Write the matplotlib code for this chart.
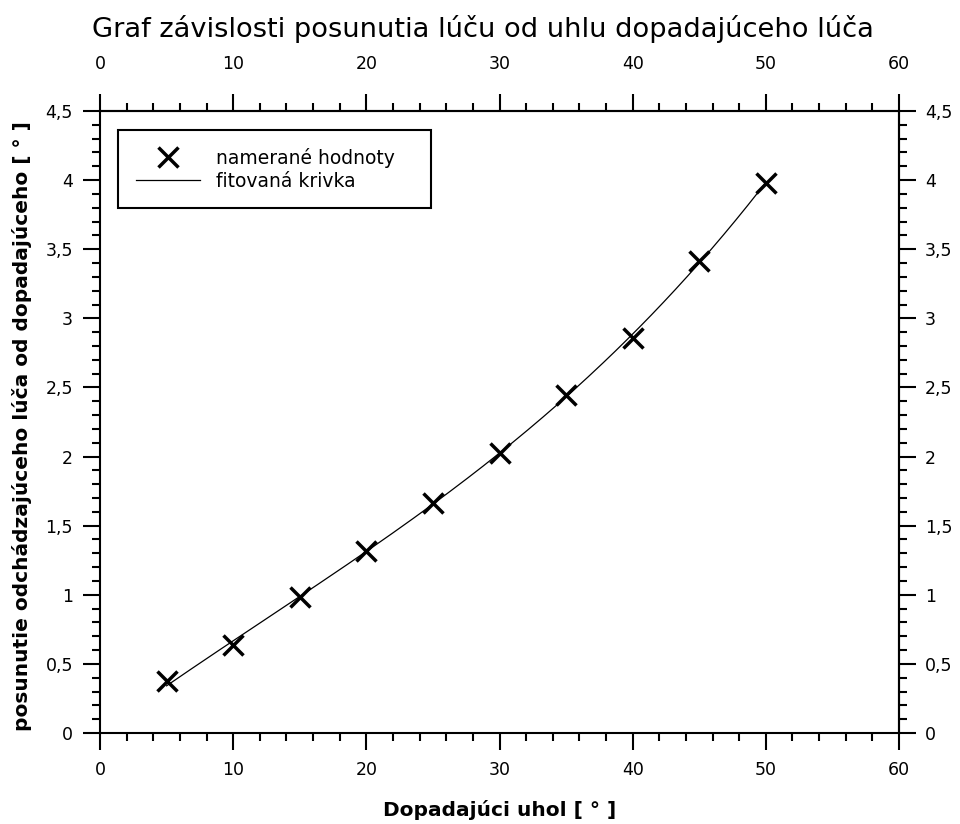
import numpy as np
import matplotlib
matplotlib.use("Agg")
import matplotlib.pyplot as plt
from matplotlib.ticker import MultipleLocator, FixedLocator, FuncFormatter

# Data
uhol = [5, 10, 15, 20, 25, 30, 35, 40, 45, 50]
posunutie = [0.376, 0.637, 0.984, 1.317, 1.662, 2.028, 2.446, 2.856, 3.415, 3.982]

x_ticks = [0, 10, 20, 30, 40, 50, 60]
y_ticks = [0, 0.5, 1, 1.5, 2, 2.5, 3, 3.5, 4, 4.5]

title = "Graf závislosti posunutia lúču od uhlu dopadajúceho lúča"
xlabel = "Dopadajúci uhol [ ° ]"
ylabel = "posunutie odchádzajúceho lúča od dopadajúceho [ ° ]"
legend_labels = ["namerané hodnoty", "fitovaná krivka"]

plt.rcParams['font.family'] = ['DejaVu Sans']

W, H = 960, 824
fig = plt.figure(figsize=(W / 100, H / 100), dpi=100)
ax = fig.add_axes([100 / W, (H - 733) / H, 799 / W, 622 / H])

# fitted curve: least squares y = a*x + b*x^2 + c*x^3 (through origin) on measured data
xa = np.asarray(uhol, dtype=float)
ya = np.asarray(posunutie, dtype=float)
A = np.column_stack([xa, xa ** 2, xa ** 3])
(a, b, c), *_ = np.linalg.lstsq(A, ya, rcond=None)
xf = np.linspace(xa.min(), xa.max(), 200)
yf = a * xf + b * xf ** 2 + c * xf ** 3

ax.plot(uhol, posunutie, linestyle='none', marker='x', markersize=15,
        markeredgewidth=2.5, color='black', label=legend_labels[0])
ax.plot(xf, yf, color='black', linewidth=0.9, label=legend_labels[1])

ax.set_xlim(0, 60)
ax.set_ylim(0, 4.5)

def fmt(v, pos):
    s = ('%.1f' % v).rstrip('0').rstrip('.')
    return s.replace('.', ',')

formatter = FuncFormatter(fmt)

for sp in ax.spines.values():
    sp.set_linewidth(1.5)

ax.xaxis.set_major_locator(FixedLocator(x_ticks))
ax.xaxis.set_minor_locator(MultipleLocator(2))
ax.yaxis.set_major_locator(FixedLocator(y_ticks))
ax.yaxis.set_minor_locator(MultipleLocator(0.1))
ax.xaxis.set_major_formatter(formatter)
ax.yaxis.set_major_formatter(formatter)

LS = 12.5
tick_kw = dict(direction='out', width=1.5, colors='black')
ax.tick_params(axis='x', which='major', length=12.5, pad=8, labelsize=LS, **tick_kw)
ax.tick_params(axis='x', which='minor', length=6, **tick_kw)
ax.tick_params(axis='y', which='major', length=12.5, pad=7, labelsize=LS, **tick_kw)
ax.tick_params(axis='y', which='minor', length=6, **tick_kw)

secx = ax.secondary_xaxis('top')
secx.xaxis.set_major_locator(FixedLocator(x_ticks))
secx.xaxis.set_minor_locator(MultipleLocator(2))
secx.xaxis.set_major_formatter(formatter)
secx.tick_params(axis='x', which='major', length=12.5, pad=15, labelsize=LS, **tick_kw)
secx.tick_params(axis='x', which='minor', length=6, **tick_kw)
secx.spines['top'].set_linewidth(1.5)

secy = ax.secondary_yaxis('right')
secy.yaxis.set_major_locator(FixedLocator(y_ticks))
secy.yaxis.set_minor_locator(MultipleLocator(0.1))
secy.yaxis.set_major_formatter(formatter)
secy.tick_params(axis='y', which='major', length=12.5, pad=6, labelsize=LS, **tick_kw)
secy.tick_params(axis='y', which='minor', length=6, **tick_kw)
secy.spines['right'].set_linewidth(1.5)

fig.text(92 / W, 1 - 29 / H, title, fontsize=19.6, ha='left', va='center')
fig.text((100 + 899) / 2 / W, 1 - 810 / H, xlabel, fontsize=14.5,
         fontweight='bold', ha='center', va='center')
fig.text(22 / W, 1 - 426 / H, ylabel, fontsize=14.5, fontweight='bold',
         ha='center', va='center', rotation=90)

bx0 = 18 / 799
btop = (733 - 130) / 622
bh = 78 / 622
leg = ax.legend(loc='upper left', bbox_to_anchor=(bx0, btop - bh, 313 / 799, bh),
                mode='expand', frameon=True, fancybox=False, edgecolor='black',
                fontsize=13.5, numpoints=1, handlelength=3.4, handletextpad=0.9,
                borderpad=0.95, labelspacing=0.2, borderaxespad=0)
leg.get_frame().set_linewidth(1.5)
leg.get_frame().set_alpha(1)

fig.savefig('out.png', dpi=100)
